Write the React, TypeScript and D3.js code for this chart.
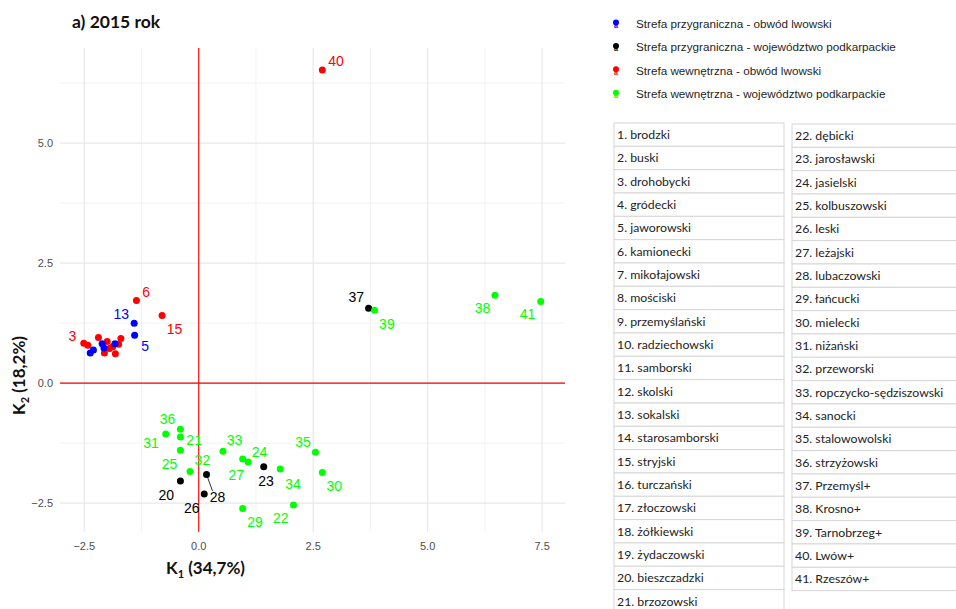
import React from "react";
import * as d3 from "d3";

// ---- data ----
const pointIds = [1, 2, 3, 4, 6, 7, 9, 10, 12, 15, 17, 19, 5, 8, 11, 13, 14, 16, 18, 20, 21, 22, 23, 24, 25, 26, 27, 28, 29, 30, 31, 32, 33, 34, 35, 36, 37, 38, 39, 40, 41];
const pointGroups = [
  2, 2, 2, 2, 2, 2, 2, 2, 2, 2, 2, 2,
  0, 0, 0, 0, 0, 0, 0,
  1, 3, 3, 1, 3, 3, 1, 3, 1, 3, 3, 3, 3, 3, 3, 3, 3, 1, 3, 3, 2, 3,
];
const pointX = [
  -2.42, -2.19, -2.51, -2.0, -1.36, -2.06, -1.95, -1.88, -1.82, -0.8, -1.75, -1.7,
  -1.4, -2.37, -2.3, -1.41, -2.11, -2.07, -1.83,
  -0.4, -0.4, 2.07, 1.42, 1.08, -0.19, 0.12, 0.96, 0.17, 0.96, 2.7, -0.72, -0.4, 0.53, 1.78, 2.55, -0.4, 3.71, 6.47, 3.84, 2.7, 7.47,
];
const pointY = [
  0.79, 0.95, 0.83, 0.87, 1.72, 0.63, 0.72, 0.76, 0.61, 1.41, 0.81, 0.93,
  1.0, 0.63, 0.69, 1.25, 0.82, 0.73, 0.82,
  -2.04, -1.12, -2.54, -1.74, -1.64, -1.84, -2.31, -1.58, -1.9, -2.61, -1.86, -1.06, -1.4, -1.42, -1.79, -1.44, -0.96, 1.56, 1.83, 1.52, 6.52, 1.7,
];
// label positions (data units) for the labels that are visible; null = not labelled
const labelX: (number | null)[] = [
  null, null, -2.76, null, -1.15, null, null, null, null, -0.53, null, null,
  -1.17, null, null, -1.69, null, null, null,
  -0.71, -0.1, 1.79, 1.47, 1.33, -0.64, -0.15, 0.82, 0.41, 1.23, 2.96, -1.04, 0.08, 0.78, 2.06, 2.28, -0.68, 3.44, 6.2, 4.11, 3.0, 7.18,
];
const labelY: (number | null)[] = [
  null, null, 0.99, null, 1.9, null, null, null, null, 1.125, null, null,
  0.77, null, null, 1.45, null, null, null,
  -2.33, -1.19, -2.8, -2.035, -1.43, -1.69, -2.59, -1.92, -2.37, -2.89, -2.15, -1.24, -1.61, -1.19, -2.09, -1.22, -0.75, 1.785, 1.56, 1.24, 6.71, 1.44,
];
const segmentIds = [28];

const groupNames = [
  "Strefa przygraniczna - obwód lwowski",
  "Strefa przygraniczna - województwo podkarpackie",
  "Strefa wewnętrzna - obwód lwowski",
  "Strefa wewnętrzna - województwo podkarpackie",
];
const groupColors = ["#0000ff", "#000000", "#ff0000", "#00ff00"];

const xTicks = [-2.5, 0, 2.5, 5, 7.5];
const xMinor = [-1.25, 1.25, 3.75, 6.25];
const yTicks = [-2.5, 0, 2.5, 5];
const yMinor = [-1.25, 1.25, 3.75, 6.25];

const districtNames = [
  "brodzki", "buski", "drohobycki", "gródecki", "jaworowski", "kamionecki", "mikołajowski",
  "mościski", "przemyślański", "radziechowski", "samborski", "skolski", "sokalski",
  "starosamborski", "stryjski", "turczański", "złoczowski", "żółkiewski", "żydaczowski",
  "bieszczadzki", "brzozowski", "dębicki", "jarosławski", "jasielski", "kolbuszowski",
  "leski", "leżajski", "lubaczowski", "łańcucki", "mielecki", "niżański", "przeworski",
  "ropczycko-sędziszowski", "sanocki", "stalowowolski", "strzyżowski", "Przemyśl+",
  "Krosno+", "Tarnobrzeg+", "Lwów+", "Rzeszów+",
];

const title = "a) 2015 rok";

export default function App() {
  const x = d3.scaleLinear().domain([-3.03, 8.0]).range([60, 565]);
  const y = d3.scaleLinear().domain([-3.1, 6.98]).range([532, 48]);
  const [x0, x1] = x.range();
  const [y0, y1] = y.range();
  const fmt = d3.format(".1f");
  const rowH = 23.33;

  return (
    <svg
      width={956}
      height={609}
      style={{ position: "absolute", left: 0, top: 0, background: "#fff" }}
      fontFamily="'Liberation Sans', Arial, sans-serif"
    >
      <rect width={956} height={609} fill="#fff" />
      {/* grid */}
      {xMinor.map((v) => (
        <line key={"xm" + v} x1={x(v)} x2={x(v)} y1={y1} y2={y0} stroke="#f2f2f2" strokeWidth={1} />
      ))}
      {yMinor.map((v) => (
        <line key={"ym" + v} y1={y(v)} y2={y(v)} x1={x0} x2={x1} stroke="#f2f2f2" strokeWidth={1} />
      ))}
      {xTicks.map((v) => (
        <line key={"xg" + v} x1={x(v)} x2={x(v)} y1={y1} y2={y0} stroke="#e8e8e8" strokeWidth={1.2} />
      ))}
      {yTicks.map((v) => (
        <line key={"yg" + v} y1={y(v)} y2={y(v)} x1={x0} x2={x1} stroke="#e8e8e8" strokeWidth={1.2} />
      ))}
      {/* reference lines */}
      <line x1={x(0)} x2={x(0)} y1={y1} y2={y0} stroke="#ff0000" strokeWidth={1.1} />
      <line y1={y(0)} y2={y(0)} x1={x0} x2={x1} stroke="#ff0000" strokeWidth={1.1} />
      {/* tick labels */}
      {xTicks.map((v) => (
        <text key={"xt" + v} x={x(v)} y={550} textAnchor="middle" fontSize={11} fill="#4d4d4d">
          {fmt(v)}
        </text>
      ))}
      {yTicks.map((v) => (
        <text key={"yt" + v} x={53} y={y(v)} dy="0.35em" textAnchor="end" fontSize={11} fill="#4d4d4d">
          {fmt(v)}
        </text>
      ))}
      {/* segments */}
      {pointIds.map((id, i) =>
        segmentIds.includes(id) && labelX[i] !== null ? (
          <line
            key={"s" + id}
            x1={x(pointX[i])}
            y1={y(pointY[i])}
            x2={x(labelX[i] as number) - 5}
            y2={y(labelY[i] as number) - 6}
            stroke="#000"
            strokeWidth={0.8}
          />
        ) : null
      )}
      {/* points */}
      {pointIds.map((id, i) => (
        <circle key={"p" + id} cx={x(pointX[i])} cy={y(pointY[i])} r={3.5} fill={groupColors[pointGroups[i]]} />
      ))}
      {/* labels */}
      {pointIds.map((id, i) =>
        labelX[i] !== null ? (
          <text
            key={"l" + id}
            x={x(labelX[i] as number)}
            y={y(labelY[i] as number)}
            dy="0.36em"
            textAnchor="middle"
            fontSize={14}
            fill={groupColors[pointGroups[i]]}
          >
            {id}
          </text>
        ) : null
      )}
      {/* title */}
      <text x={72} y={28} fontFamily="Lato, sans-serif" fontWeight="bold" fontSize={17.5} fill="#111">
        {title}
      </text>
      {/* axis titles */}
      <text x={166} y={574} fontFamily="Lato, sans-serif" fontWeight="bold" fontSize={17} fill="#111">
        K<tspan fontSize={11} dy={4}>1</tspan>
        <tspan dy={-4}> (34,7%)</tspan>
      </text>
      <text
        transform="translate(25,415) rotate(-90)"
        fontFamily="Lato, sans-serif"
        fontWeight="bold"
        fontSize={17}
        fill="#111"
      >
        K<tspan fontSize={11} dy={4}>2</tspan>
        <tspan dy={-4}> (18,2%)</tspan>
      </text>
      {/* legend */}
      {groupNames.map((name, i) => {
        const ly = 24 + i * 23.4;
        return (
          <g key={"lg" + i}>
            <circle cx={616} cy={ly - 1.5} r={3} fill={groupColors[i]} />
            <text x={616} y={ly + 4} textAnchor="middle" fontSize={7} fontWeight="bold" fill={groupColors[i]}>
              a
            </text>
            <text x={636} y={ly} dy="0.35em" fontSize={11.7} fill="#262626">
              {name}
            </text>
          </g>
        );
      })}
      {/* district table */}
      {districtNames.map((name, i) => {
        const col = i < 21 ? 0 : 1;
        const row = col === 0 ? i : i - 21;
        const bx = col === 0 ? 614 : 792;
        const bw = 170;
        const by = (col === 0 ? 123 : 124) + row * rowH;
        return (
          <g key={"d" + i}>
            <rect x={bx} y={by} width={bw} height={rowH} fill="#fff" stroke="#d6d6d6" strokeWidth={1} />
            <text x={bx + 3} y={by + rowH / 2} dy="0.35em" fontFamily="Lato, sans-serif" fontSize={12.3} fill="#222">
              {i + 1}. {name}
            </text>
          </g>
        );
      })}
    </svg>
  );
}
